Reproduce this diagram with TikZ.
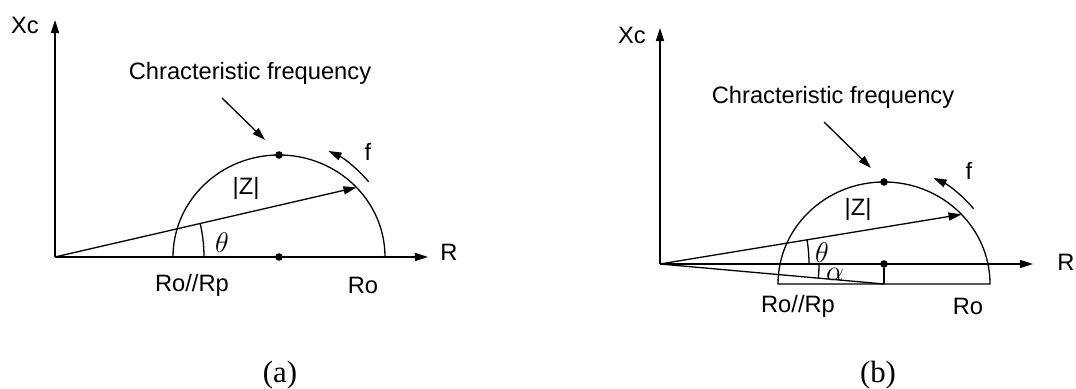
\documentclass[tikz,border=0pt]{standalone}
\usepackage{fontspec}
\setmainfont{Liberation Serif}
\setsansfont{Liberation Sans}
\usetikzlibrary{positioning, calc, arrows.meta}

\tikzset{
  axislabel/.style={font=\sffamily\fontsize{10}{12}\selectfont, inner sep=0pt},
  anglelabel/.style={font=\fontsize{12.5}{14}\selectfont, inner sep=0pt},
  caption/.style={font=\fontsize{13}{15}\selectfont, inner sep=0pt},
  tip/.style={-{Triangle[length=5.5pt,width=3.4pt]}},
  dot/.style={circle, fill, inner sep=0pt, minimum size=3.2pt},
}

\begin{document}
\begin{tikzpicture}[x=0.422pt, y=0.422pt, line width=0.55pt]
        \useasboundingbox (0,0) rectangle (1076,389);

        % ---------- Panel (a) ----------
        \coordinate (Oa) at (55,132);
        \coordinate (Ya) at (55,369);
        \coordinate (Ra) at (428,132);
        \coordinate (Ca) at (279,132);
        \draw[tip] (Oa) -- (Ya);
        \draw[tip] (Oa) -- (Ra);
        \node[axislabel] (xca) at (25,364) {Xc};
        \node[axislabel] (rra) at (449,137) {R};

        % Semicircle and its points
        \draw ($(Ca)+(106,0)$) arc[start angle=0, end angle=180, x radius=106, y radius=102];
        \node[dot] (topa) at ($(Ca)+(0,102)$) {};
        \node[dot] (cena) at (Ca) {};

        % Impedance vector and angle
        \coordinate (Za) at ($(Ca)+(43:106 and 102)$);
        \draw[tip] (Oa) -- (Za);
        \draw ($(Oa)+(149,0)$) arc[start angle=0, end angle=13, radius=149];
        \node[anglelabel] (tha) at (222,146) {$\theta$};
        \node[axislabel] (za) at (246,201) {|Z|};

        % Characteristic frequency pointer
        \node[axislabel] (cfa) at (250,316) {Chracteristic frequency};
        \coordinate (cfas) at (222,291);
        \coordinate (cfae) at (265,249);
        \draw[tip] (cfas) -- (cfae);

        % Frequency direction
        \draw[tip] ($(Ca)+(40:117)$) arc[start angle=40, end angle=65, radius=117];
        \node[axislabel] (fa) at (368,237) {f};

        % X-Axis Labels
        \node[axislabel] (rpa) at (192,104) {Ro//Rp};
        \node[axislabel] (roa) at (363,104) {Ro};
        \node[caption] (capa) at (280,14) {(a)};

        % ---------- Panel (b) ----------
        \coordinate (Ob) at (660,125);
        \coordinate (Yb) at (660,361);
        \coordinate (Rb) at (1033,125);
        \coordinate (Cb) at (884,105);
        \draw[tip] (Ob) -- (Yb);
        \draw[tip] (Ob) -- (Rb);
        \node[axislabel] (xcb) at (632,354) {Xc};
        \node[axislabel] (rrb) at (1066,127) {R};

        % Semicircle below the axis, with its diameter
        \draw ($(Cb)+(106,0)$) arc[start angle=0, end angle=180, x radius=106, y radius=102]
              -- cycle;
        \node[dot] (topb) at ($(Cb)+(0,102)$) {};
        \node[dot] (cenb) at (884,125) {};
        \draw (cenb) -- (Cb);
        \draw (Ob) -- (Cb);

        % Impedance vector and angles
        \coordinate (Zb) at ($(Cb)+(43:106 and 102)$);
        \draw[tip] (Ob) -- (Zb);
        \draw ($(Ob)+(149,0)$) arc[start angle=0, end angle=9.3, radius=149];
        \draw ($(Ob)+(-5.1:159)$) arc[start angle=-5.1, end angle=0, radius=159];
        \node[anglelabel] (thb) at (822,136) {$\theta$};
        \node[anglelabel] (alb) at (835,115) {$\alpha$};
        \node[axislabel] (zb) at (858,180) {|Z|};

        % Characteristic frequency pointer
        \node[axislabel] (cfb) at (833,292) {Chracteristic frequency};
        \coordinate (cfbs) at (824,267);
        \coordinate (cfbe) at (871,221);
        \draw[tip] (cfbs) -- (cfbe);

        % Frequency direction
        \draw[tip] ($(Cb)+(40:117)$) arc[start angle=40, end angle=65, radius=117];
        \node[axislabel] (fb) at (969,218) {f};

        % X-Axis Labels
        \node[axislabel] (rpb) at (798,83) {Ro//Rp};
        \node[axislabel] (rob) at (968,83) {Ro};
        \node[caption] (capb) at (878,14) {(b)};
\end{tikzpicture}
\end{document}
